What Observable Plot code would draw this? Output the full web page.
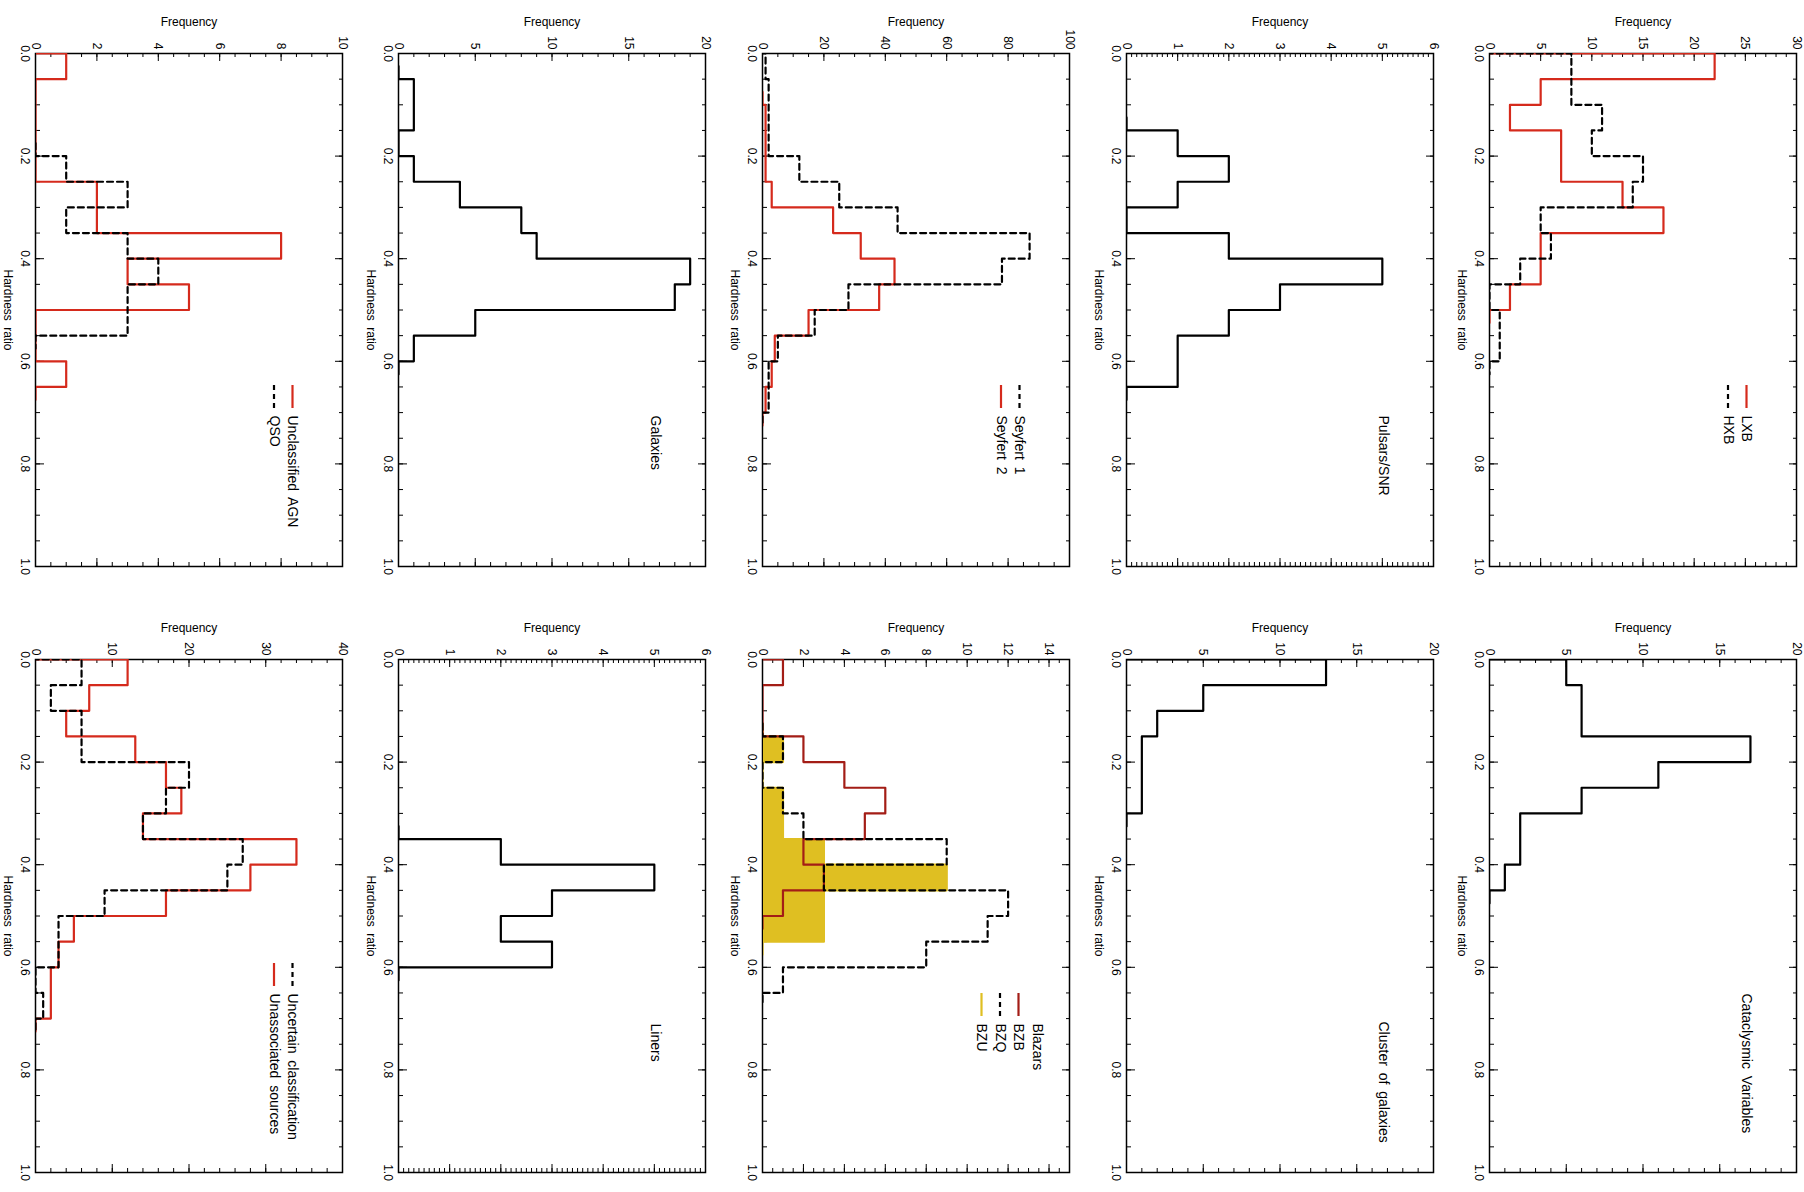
<!DOCTYPE html>
<html><head><meta charset="utf-8">
<script src="https://cdn.jsdelivr.net/npm/d3@7"></script>
<script src="https://cdn.jsdelivr.net/npm/@observablehq/plot@0.6"></script>
<style>
html,body{margin:0;padding:0;background:#fff;width:1804px;height:1192px;overflow:hidden;}
#page{position:absolute;left:0;top:0;width:1192px;height:1804px;transform-origin:0 0;transform:translate(1804px,0) rotate(90deg);}
#page svg{position:absolute;overflow:visible;}
</style></head><body><div id="page"></div>
<script>
// Histogram bin centres (bin width 0.05); counts are read per bin, null = not drawn
const binCenters = [-0.025, 0.025, 0.075, 0.125, 0.175, 0.225, 0.275, 0.325, 0.375, 0.425, 0.475, 0.525, 0.575, 0.625, 0.675, 0.725];
const hardnessTicks = [0.0, 0.2, 0.4, 0.6, 0.8, 1.0];

const lxb          = [0, 22, 5, 2, 7, 7, 13, 17, 5, 5, 2, 0, null, null, null, null];
const hxb          = [0, 8, 8, 11, 10, 15, 14, 5, 6, 3, 0, 1, 1, 0, null, null];
const pulsars      = [null, null, null, 0, 1, 2, 1, 0, 2, 5, 3, 2, 1, 1, 0, null];
const seyfert1     = [0, 1, 2, 2, 2, 12, 25, 44, 87, 78, 28, 17, 5, 2, 2, 0];
const seyfert2     = [null, null, 0, 1, 1, 1, 3, 23, 32, 43, 38, 15, 4, 3, 1, 0];
const galaxies     = [null, 0, 1, 1, 0, 1, 4, 8, 9, 19, 18, 5, 1, 0, null, null];
const unclAGN      = [0, 1, 0, 0, 0, 0, 2, 2, 8, 3, 5, 0, 0, 1, 0, null];
const qso          = [null, null, null, null, 0, 1, 3, 1, 3, 4, 3, 3, 0, null, null, null];
const cataclysmic  = [0, 5, 6, 6, 17, 11, 6, 2, 2, 1, 0, null, null, null, null, null];
const clusters     = [0, 13, 5, 2, 1, 1, 1, 0, null, null, null, null, null, null, null, null];
const bzb          = [0, 1, 0, 0, 2, 4, 6, 5, 2, 3, 1, 0, null, null, null, null];
const bzq          = [null, null, null, 0, 1, 0, 1, 2, 9, 3, 12, 11, 8, 1, 0, null];
const bzu          = [null, null, null, 0, 1, 0, 1, 1, 3, 9, 3, 3, 0, null, null, null];
const liners       = [null, null, null, null, null, null, null, 0, 2, 5, 3, 2, 3, 0, null, null];
const uncertain    = [0, 6, 2, 6, 6, 20, 17, 14, 27, 25, 9, 3, 3, 0, 1, 0];
const unassociated = [0, 12, 7, 4, 13, 17, 19, 14, 34, 28, 17, 5, 3, 2, 2, 0];

// Frequency tick labels per panel
const freqTicks30 = [0, 5, 10, 15, 20, 25, 30];
const freqTicks6 = [0, 1, 2, 3, 4, 5, 6];
const freqTicks100 = [0, 20, 40, 60, 80, 100];
const freqTicks20 = [0, 5, 10, 15, 20];
const freqTicks10 = [0, 2, 4, 6, 8, 10];
const freqTicks14 = [0, 2, 4, 6, 8, 10, 12, 14];
const freqTicks40 = [0, 10, 20, 30, 40];

const RED = "#d52a1c", DARKRED = "#a31d16", GOLD = "#dfbf22", BLACK = "#000";

const panels = [
  {row:0, col:0, yMax:30, yTicks:freqTicks30, yMinor:1,
   series:[{counts:lxb, color:RED}, {counts:hxb, color:BLACK, dash:true}],
   legend:[{text:"LXB", color:RED}, {text:"HXB", color:BLACK, dash:true}], textOff:362},
  {row:0, col:1, yMax:20, yTicks:freqTicks20, yMinor:1,
   series:[{counts:cataclysmic, color:BLACK}], label:"Cataclysmic Variables", textOff:334},
  {row:1, col:0, yMax:6, yTicks:freqTicks6, yMinor:0.1,
   series:[{counts:pulsars, color:BLACK}], label:"Pulsars/SNR", textOff:362},
  {row:1, col:1, yMax:20, yTicks:freqTicks20, yMinor:1,
   series:[{counts:clusters, color:BLACK}], label:"Cluster of galaxies", textOff:362},
  {row:2, col:0, yMax:100, yTicks:freqTicks100, yMinor:5,
   series:[{counts:seyfert2, color:RED}, {counts:seyfert1, color:BLACK, dash:true}],
   legend:[{text:"Seyfert 1", color:BLACK, dash:true}, {text:"Seyfert 2", color:RED}], textOff:362},
  {row:2, col:1, yMax:15, yTicks:freqTicks14, yMinor:0.5,
   series:[{counts:bzu, color:GOLD, fill:true}, {counts:bzb, color:DARKRED}, {counts:bzq, color:BLACK, dash:true}],
   title:"Blazars", legendTop:51,
   legend:[{text:"BZB", color:DARKRED}, {text:"BZQ", color:BLACK, dash:true}, {text:"BZU", color:GOLD}], textOff:364},
  {row:3, col:0, yMax:20, yTicks:freqTicks20, yMinor:1,
   series:[{counts:galaxies, color:BLACK}], label:"Galaxies", textOff:362},
  {row:3, col:1, yMax:6, yTicks:freqTicks6, yMinor:0.1,
   series:[{counts:liners, color:BLACK}], label:"Liners", textOff:364},
  {row:4, col:0, yMax:10, yTicks:freqTicks10, yMinor:0.5,
   series:[{counts:unclAGN, color:RED}, {counts:qso, color:BLACK, dash:true}],
   legend:[{text:"Unclassified AGN", color:RED}, {text:"QSO", color:BLACK, dash:true}], textOff:362},
  {row:4, col:1, yMax:40, yTicks:freqTicks40, yMinor:2,
   series:[{counts:unassociated, color:RED}, {counts:uncertain, color:BLACK, dash:true}],
   legend:[{text:"Uncertain classification", color:BLACK, dash:true}, {text:"Unassociated sources", color:RED}], textOff:334}
];

// layout (unrotated page 1192 x 1804, then rotated clockwise)
const FRAME_W = 513, FRAME_H = 307, MT = 7, MB = 42, MR = 12;
const colLeft = [0, 600], colML = [53, 59];
const rowFrameTop = [7, 370, 734, 1098, 1461];
const FONT = "'Liberation Sans', Arial, Helvetica, sans-serif";

function makePanel(p) {
  const ml = colML[p.col];
  const W = ml + FRAME_W + MR, H = MT + FRAME_H + MB;
  const marks = [];
  marks.push(Plot.frame({stroke: BLACK, strokeWidth: 1.5}));
  // ticks (inward, mirrored on both sides)
  const xMinor = d3.range(0, 1.0001, 0.05);
  const yMinor = d3.range(0, p.yMax + 1e-9, p.yMinor);
  marks.push(Plot.tickX(xMinor, {x: d => d, insetTop: FRAME_H - 4, stroke: BLACK}));
  marks.push(Plot.tickX(xMinor, {x: d => d, insetBottom: FRAME_H - 4, stroke: BLACK}));
  marks.push(Plot.tickX(hardnessTicks, {x: d => d, insetTop: FRAME_H - 8, stroke: BLACK}));
  marks.push(Plot.tickX(hardnessTicks, {x: d => d, insetBottom: FRAME_H - 8, stroke: BLACK}));
  marks.push(Plot.tickY(yMinor, {y: d => d, insetRight: FRAME_W - 4, stroke: BLACK}));
  marks.push(Plot.tickY(yMinor, {y: d => d, insetLeft: FRAME_W - 4, stroke: BLACK}));
  marks.push(Plot.tickY(p.yTicks, {y: d => d, insetRight: FRAME_W - 8, stroke: BLACK}));
  marks.push(Plot.tickY(p.yTicks, {y: d => d, insetLeft: FRAME_W - 8, stroke: BLACK}));
  // tick labels and axis titles
  marks.push(Plot.text(hardnessTicks, {x: d => d, frameAnchor: "bottom", dy: 11, lineAnchor: "middle", textAnchor: "middle", text: d => d.toFixed(1), fontSize: 12}));
  marks.push(Plot.text(p.yTicks, {y: d => d, frameAnchor: "left", dx: -4, textAnchor: "end", lineAnchor: "middle", text: d => String(d), fontSize: 12}));
  marks.push(Plot.text(["Frequency"], {frameAnchor: "left", dx: -31, rotate: -90, textAnchor: "middle", lineAnchor: "middle", text: d => d, fontSize: 12}));
  marks.push(Plot.text(["Hardness ratio"], {frameAnchor: "bottom", dy: 28, textAnchor: "middle", lineAnchor: "middle", text: d => d, fontSize: 12}));
  // histograms (IDL psym=10 style step lines)
  for (const s of p.series) {
    const data = binCenters.map((x, i) => ({x, y: s.counts[i]})).filter(d => d.y != null);
    if (s.fill) marks.push(Plot.areaY(data, {x: "x", y: "y", curve: "step", fill: s.color, clip: true}));
    marks.push(Plot.line(data, {x: "x", y: "y", curve: "step", stroke: s.color, strokeWidth: 2.2,
      ...(s.dash ? {strokeDasharray: "6,4"} : {}), clip: true}));
  }
  // labels / legends
  const yOf = dy => p.yMax * (1 - dy / FRAME_H);
  const xOf = px => px / FRAME_W;
  const lab = {frameAnchor: "top-left", textAnchor: "start", lineAnchor: "middle", text: d => d, fontSize: 14};
  if (p.label) marks.push(Plot.text([p.label], {...lab, dx: p.textOff, dy: 50}));
  if (p.title) marks.push(Plot.text([p.title], {...lab, dx: p.textOff, dy: 32}));
  if (p.legend) {
    const top = p.legendTop ?? 50;
    p.legend.forEach((e, k) => {
      const dy = top + 18.5 * k;
      marks.push(Plot.ruleY([yOf(dy)], {y: d => d, x1: () => xOf(p.textOff - 30), x2: () => xOf(p.textOff - 7),
        stroke: e.color, strokeWidth: 2.2, ...(e.dash ? {strokeDasharray: "5,4"} : {})}));
      marks.push(Plot.text([e.text], {...lab, dx: p.textOff, dy}));
    });
  }
  const svg = Plot.plot({
    width: W, height: H,
    marginTop: MT, marginBottom: MB, marginLeft: ml, marginRight: MR,
    x: {domain: [0, 1], axis: null},
    y: {domain: [0, p.yMax], axis: null},
    style: {fontFamily: FONT, fontSize: "12px", color: "black", background: "transparent", overflow: "visible", wordSpacing: "3px"},
    marks
  });
  svg.style.left = colLeft[p.col] + "px";
  svg.style.top = (rowFrameTop[p.row] - MT) + "px";
  return svg;
}

const page = document.getElementById("page");
for (const p of panels) page.appendChild(makePanel(p));
</script>
</body></html>
